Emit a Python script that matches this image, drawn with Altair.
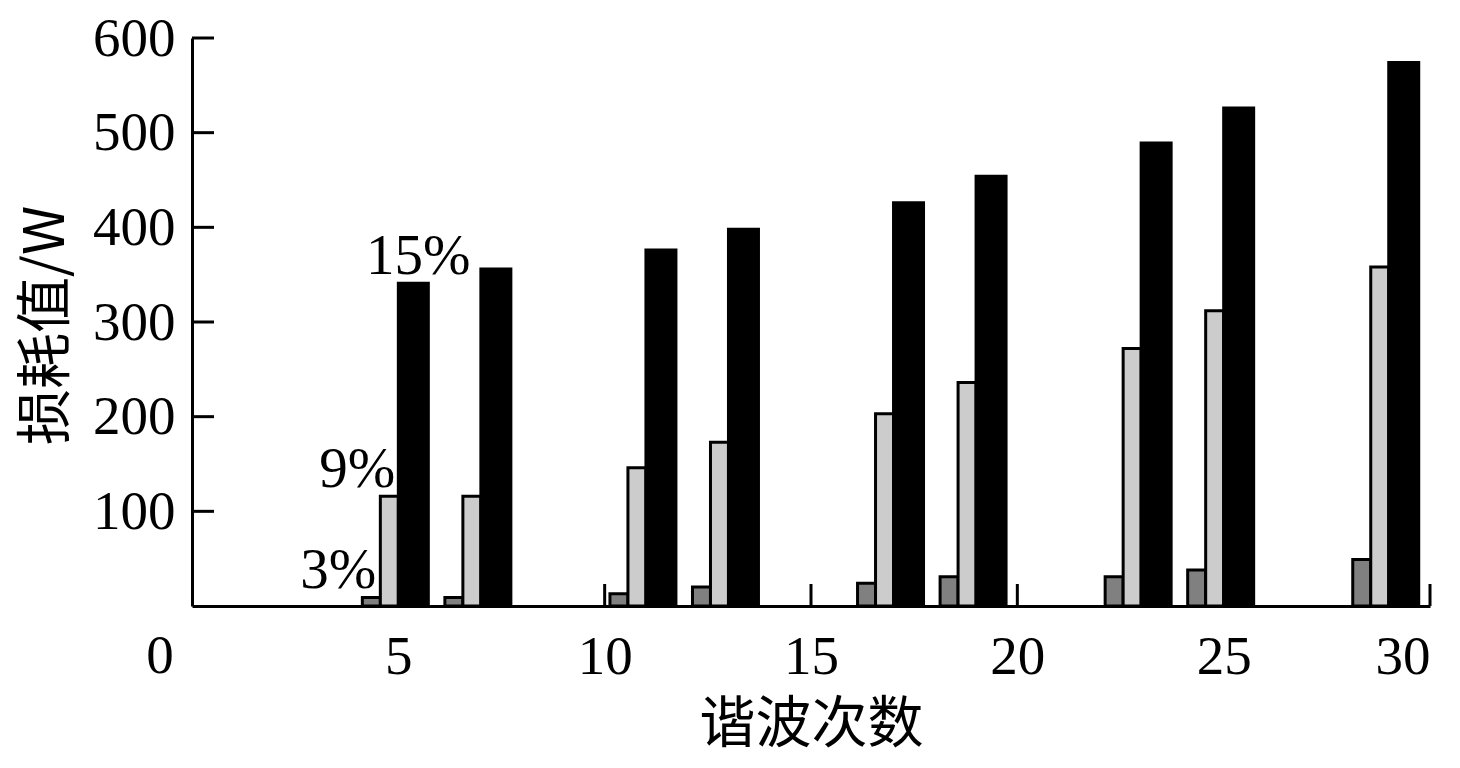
import altair as alt
import pandas as pd

harmonics = [5, 7, 11, 13, 17, 19, 23, 25, 29]
loss_3 = [9, 9, 13, 20, 24, 31, 31, 38, 49]
loss_9 = [116, 116, 146, 173, 203, 236, 272, 312, 358]
loss_15 = [341, 356, 376, 398, 426, 454, 489, 526, 574]
series_names = ["3%", "9%", "15%"]
series_colors = ["#808080", "#cccccc", "#000000"]
x_ticks = [5, 10, 15, 20, 25, 30]
y_ticks = [100, 200, 300, 400, 500, 600]

rows = []
for name, vals in zip(series_names, [loss_3, loss_9, loss_15]):
    for h, v in zip(harmonics, vals):
        rows.append({"h": h, "value": v, "series": name})
df = pd.DataFrame(rows)

ann = pd.DataFrame({
    "label": series_names,
    "h": [harmonics[0]] * 3,
    "value": [loss_3[0], loss_9[0], loss_15[0]],
})

SERIF = "Liberation Serif, Times New Roman, Noto Sans CJK SC"
FS = 55
AFS = 57

xscale = alt.Scale(domain=[0, 30], nice=False, zero=True)
yscale = alt.Scale(domain=[0, 600], nice=False)

bars = alt.Chart(df).transform_calculate(
    x0="datum.h + (datum.series == '3%' ? -0.872 : (datum.series == '9%' ? -0.436 : 0))",
    x1="datum.h + (datum.series == '3%' ? -0.436 : (datum.series == '9%' ? 0 : 0.727))",
).mark_bar(stroke="black", strokeWidth=3, opacity=1).encode(
    x=alt.X("x0:Q", scale=xscale,
            axis=alt.Axis(values=x_ticks + [0], title="谐波次数", ticks=False,
                          labelExpr="datum.value == 0 ? '' : datum.label",
                          labelPadding=24, titleY=135, titleBaseline="alphabetic",
                          titleFont="Noto Sans CJK SC", titleFontSize=56, titleFontWeight="normal")),
    x2="x1:Q",
    y=alt.Y("value:Q", scale=yscale,
            axis=alt.Axis(values=y_ticks, title="损耗值/W", ticks=False,
                          labelPadding=17, titleAngle=-90, titleX=-146, titleY=287,
                          titleBaseline="middle", titleAlign="center",
                          titleFont="Noto Sans CJK SC", titleFontSize=56, titleFontWeight="normal")),
    y2=alt.datum(0),
    fill=alt.Fill("series:N", scale=alt.Scale(domain=series_names, range=series_colors), legend=None),
)

xt = alt.Chart(pd.DataFrame({"t": x_ticks})).mark_tick(
    color="black", thickness=3, size=22, orient="vertical", yOffset=-11, opacity=1
).encode(x=alt.X("t:Q", scale=xscale), y=alt.datum(0, scale=yscale))

yt = alt.Chart(pd.DataFrame({"t": y_ticks})).mark_tick(
    color="black", thickness=3, size=22, orient="horizontal", xOffset=11, opacity=1
).encode(y=alt.Y("t:Q", scale=yscale), x=alt.datum(0, scale=xscale))

zero = alt.Chart(pd.DataFrame({"t": [0]})).mark_text(
    font=SERIF, fontSize=FS, dx=-32, dy=50, baseline="middle", align="center", color="black"
).encode(x=alt.X("t:Q", scale=xscale), y=alt.Y("t:Q", scale=yscale), text=alt.value("0"))

ann_15 = alt.Chart(ann[ann.label == "15%"]).mark_text(
    font=SERIF, fontSize=AFS, align="center", baseline="alphabetic", dx=20, dy=-9, color="black"
).encode(x=alt.X("h:Q", scale=xscale), y=alt.Y("value:Q", scale=yscale), text="label:N")
ann_9 = alt.Chart(ann[ann.label == "9%"]).mark_text(
    font=SERIF, fontSize=AFS, align="right", baseline="alphabetic", dx=-3, dy=-9, color="black"
).encode(x=alt.X("h:Q", scale=xscale), y=alt.Y("value:Q", scale=yscale), text="label:N")
ann_3 = alt.Chart(ann[ann.label == "3%"]).mark_text(
    font=SERIF, fontSize=AFS, align="right", baseline="alphabetic", dx=-22, dy=-9, color="black"
).encode(x=alt.X("h:Q", scale=xscale), y=alt.Y("value:Q", scale=yscale), text="label:N")

chart = alt.layer(xt, yt, bars, zero, ann_15, ann_9, ann_3).properties(
    width=1238, height=568,
    background="white",
    autosize=alt.AutoSizeParams(type="none"),
    padding={"left": 184, "top": 30, "right": 20, "bottom": 150},
).configure_view(stroke=None).configure_axis(
    grid=False, domainColor="black", domainWidth=3,
    labelFont=SERIF, labelFontSize=FS, labelColor="black", titleColor="black",
)

chart.save("out.html", embed_options={"renderer": "svg", "actions": False})
